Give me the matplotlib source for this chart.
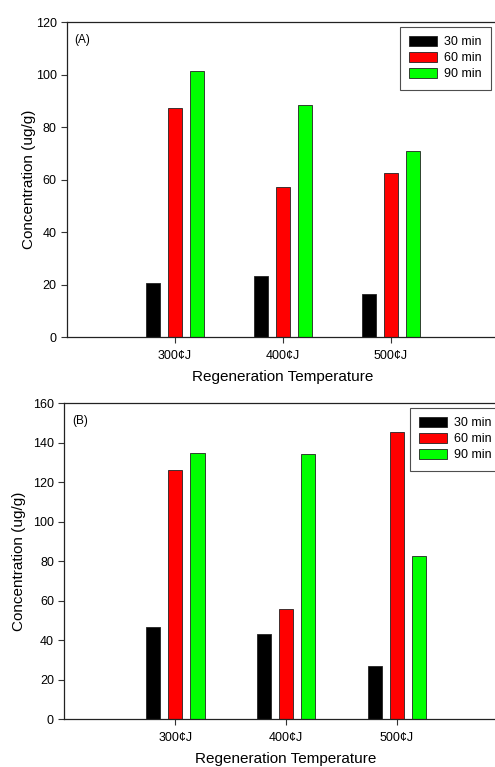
import matplotlib
matplotlib.use("Agg")
import matplotlib.pyplot as plt
import numpy as np

plt.rcParams['font.family'] = ['Liberation Sans', 'DejaVu Sans']

categories = ["300¢J", "400¢J", "500¢J"]
series_names = ["30 min", "60 min", "90 min"]
colors = ["#000000", "#FF0000", "#00FF00"]

a_30 = [20.4, 23.2, 16.5]
a_60 = [87.3, 57.0, 62.6]
a_90 = [101.2, 88.3, 70.7]

b_30 = [46.9, 43.4, 27.1]
b_60 = [126.1, 55.7, 145.6]
b_90 = [135.0, 134.5, 82.5]

fig = plt.figure(figsize=(4.95, 7.67), dpi=100)

def panel(rect, data, ymax, label, legend_rect, ylabelpad):
    ax = fig.add_axes(rect)
    x = np.arange(1, len(categories) + 1)
    width = 0.13
    offsets = [-0.2, 0.0, 0.2]
    for vals, off, c, name in zip(data, offsets, colors, series_names):
        ax.bar(x + off, vals, width, color=c, edgecolor="#222222", linewidth=0.6, label=name)
    ax.set_xlim(0, 4)
    ax.set_ylim(0, ymax)
    ax.set_yticks(np.arange(0, ymax + 1, 20))
    ax.set_xticks(x)
    ax.set_xticklabels(categories)
    ax.tick_params(axis='both', direction='out', length=4, width=0.8, labelsize=9, color='#333333')
    ax.tick_params(axis='x', pad=5)
    ax.tick_params(top=False, right=False)
    for s in ax.spines.values():
        s.set_linewidth(0.9)
        s.set_color('#222222')
    ax.set_ylabel("Concentration (ug/g)", fontsize=11, labelpad=ylabelpad)
    ax.set_xlabel("Regeneration Temperature", fontsize=11, labelpad=6)
    ax.text(0.017, 0.962, label, transform=ax.transAxes, fontsize=8.5, va='top', ha='left')
    leg = ax.legend(loc='upper left', bbox_to_anchor=legend_rect, bbox_transform=fig.transFigure,
                    fontsize=9, frameon=True, fancybox=False, edgecolor='#222222',
                    handlelength=2.25, handleheight=0.75, handletextpad=0.55, borderpad=0.75,
                    labelspacing=0.32, borderaxespad=0)
    leg.get_frame().set_linewidth(0.8)
    return ax

panel([0.1354, 0.5606, 0.8727, 0.4107], [a_30, a_60, a_90], 120, "(A)", (0.808, 0.9648), 0)
panel([0.1299, 0.0622, 0.8961, 0.4120], [b_30, b_60, b_90], 160, "(B)", (0.828, 0.468), 5)

fig.savefig("out.png", dpi=100)
